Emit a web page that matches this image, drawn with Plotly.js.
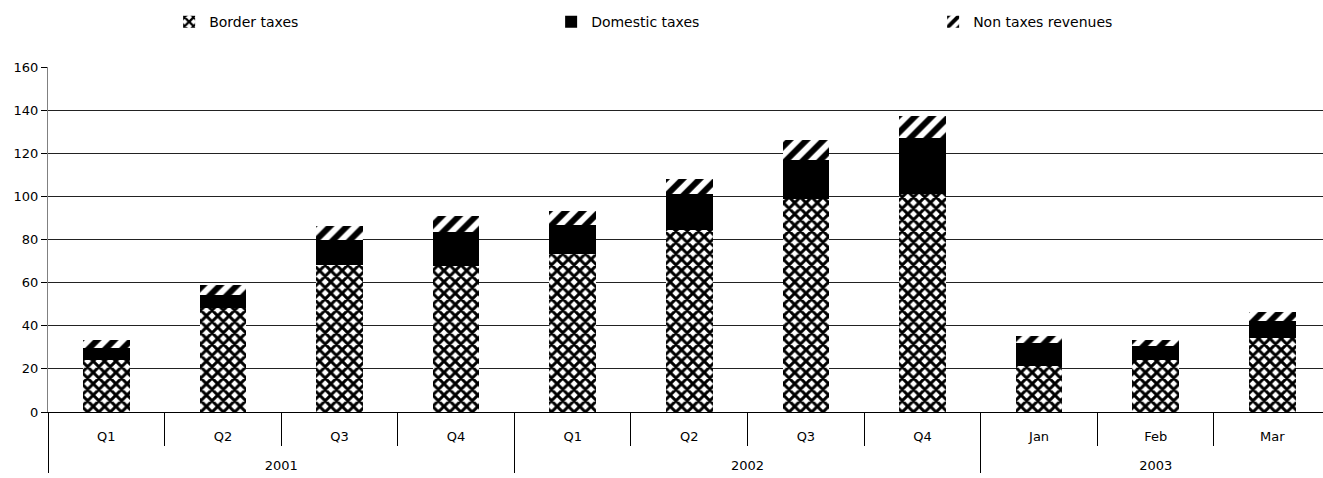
<!DOCTYPE html>
<html>
<head>
<meta charset="utf-8">
<script src="https://cdn.plot.ly/plotly-3.0.1.min.js"></script>
<style>html,body{margin:0;padding:0;background:#fff;overflow:hidden}</style>
</head>
<body>
<div id="chart" style="width:1323px;height:478px"></div>
<script>
const years   = ['2001','2001','2001','2001','2002','2002','2002','2002','2003','2003','2003'];
const periods = ['Q1','Q2','Q3','Q4','Q1','Q2','Q3','Q4','Jan','Feb','Mar'];
const borderTaxes   = [24.3, 48.4, 68.0, 67.5, 73.2, 84.5, 98.8, 101.2, 21.2, 24.3, 34.3];
const domesticTaxes = [5.6, 6.0, 12.0, 16.2, 13.3, 16.5, 18.1, 26.0, 11.0, 6.5, 8.1];
const nonTaxes      = [3.7, 4.6, 6.3, 7.2, 6.5, 7.0, 9.3, 10.1, 2.9, 2.8, 4.1];
const yTicks = [0, 20, 40, 60, 80, 100, 120, 140, 160];

const FONT = 'DejaVu Sans, Verdana, sans-serif';
// period labels get an empty spacer line so the year row sits lower, as in the reference
const periodLabels = periods.map(p => p + '<br><span style="font-size:33px">&nbsp;</span>');
const x = [years, periodLabels];

const traces = [
  {type:'bar', name:'Border taxes', x:x, y:borderTaxes,
   marker:{color:'white', line:{width:0},
     pattern:{shape:'x', size:8, solidity:0.6, fgcolor:'black', bgcolor:'white'}}},
  {type:'bar', name:'Domestic taxes', x:x, y:domesticTaxes,
   marker:{color:'black', line:{width:0}}},
  {type:'bar', name:'Non taxes revenues', x:x, y:nonTaxes,
   marker:{color:'white', line:{width:0},
     pattern:{shape:'/', size:12, solidity:0.5, fgcolor:'black', bgcolor:'white'}}}
];

const layout = {
  width:1323, height:478,
  margin:{l:48, r:0, t:67, b:66},
  paper_bgcolor:'white', plot_bgcolor:'white',
  barmode:'stack', bargap:0.6,
  font:{family:FONT, size:13, color:'#000'},
  showlegend:true,
  legend:{orientation:'h', x:0.095, xanchor:'left', y:1.13, yanchor:'middle',
    entrywidth:337, entrywidthmode:'pixels', traceorder:'normal',
    font:{family:FONT, size:14, color:'#000'}},
  xaxis:{type:'multicategory', range:[-0.5, 10.435],
    showline:true, linecolor:'#000', linewidth:1,
    ticks:'outside', tickson:'boundaries', ticklen:33, tickcolor:'#000',
    ticklabelstandoff:12,
    showdividers:true, dividercolor:'#000', dividerwidth:1,
    showgrid:false, zeroline:false, fixedrange:true,
    tickfont:{family:FONT, size:13, color:'#000'}},
  yaxis:{range:[0,160], tickvals:yTicks, ticktext:yTicks.map(String),
    showline:true, linecolor:'#808080', linewidth:1,
    ticks:'outside', ticklen:6, tickcolor:'#000',
    showgrid:true, gridcolor:'#222', gridwidth:1,
    zeroline:false, fixedrange:true,
    tickfont:{family:FONT, size:13, color:'#000'}}
};

Plotly.newPlot('chart', traces, layout, {displayModeBar:false, staticPlot:true});
</script>
</body>
</html>
